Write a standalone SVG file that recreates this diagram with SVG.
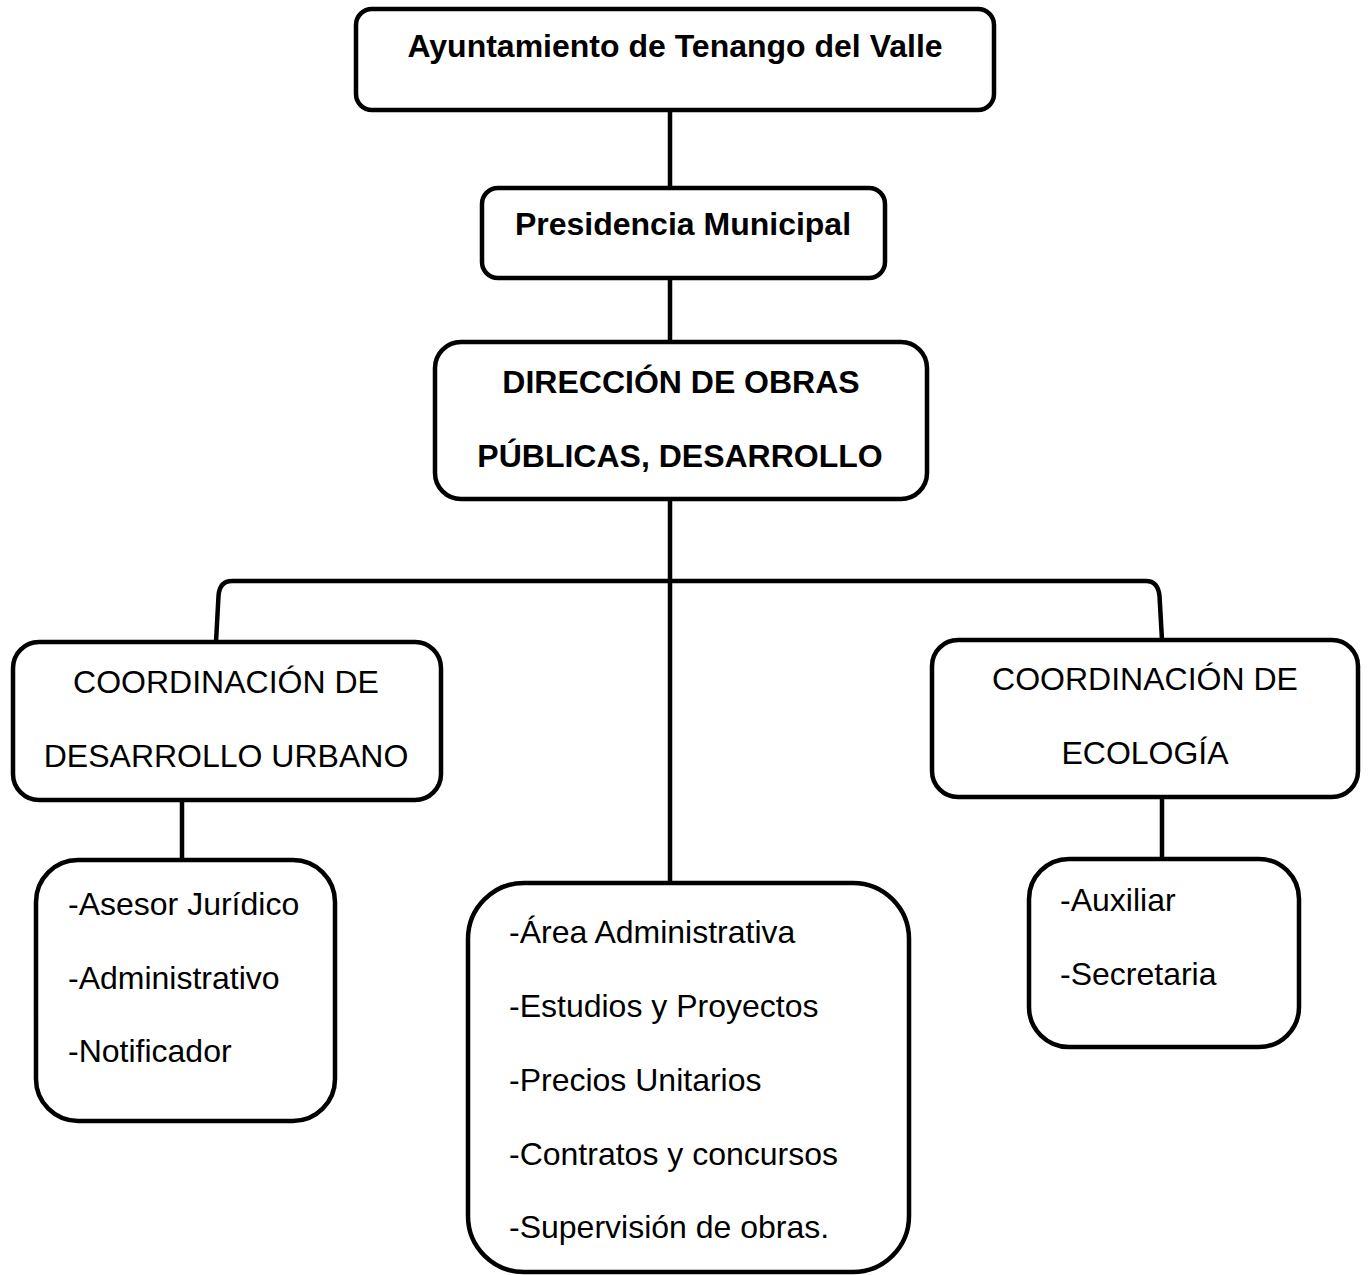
<svg xmlns="http://www.w3.org/2000/svg" width="1368" height="1275" viewBox="0 0 1368 1275">
<style>
.box{fill:#fff;stroke:#000;stroke-width:4.5}
.con{fill:none;stroke:#000;stroke-width:4.5}
.b{font-family:"Liberation Sans",Arial,sans-serif;font-weight:bold;font-size:32px;fill:#000}
.r{font-family:"Liberation Sans",Arial,sans-serif;font-size:32px;fill:#000}
</style>
<rect width="1368" height="1275" fill="#fff"/>
<g id="connectors">
<line class="con" x1="670" y1="110" x2="670" y2="188"/>
<line class="con" x1="670" y1="278" x2="670" y2="342"/>
<line class="con" x1="670" y1="499" x2="670" y2="883"/>
<path class="con" d="M216 642 L218.5 596 Q219.5 581 232 581 L1146 581 Q1158 581 1159.5 596 L1162 640"/>
<line class="con" x1="182" y1="801" x2="182" y2="860"/>
<line class="con" x1="1162" y1="797" x2="1162" y2="859"/>
</g>
<g id="ayuntamiento">
<rect class="box" x="356" y="9" width="638" height="101" rx="16"/>
<text class="b" x="675" y="57" text-anchor="middle">Ayuntamiento de Tenango del Valle</text>
</g>
<g id="presidencia">
<rect class="box" x="482" y="188" width="403" height="90" rx="16"/>
<text class="b" x="683" y="235" text-anchor="middle">Presidencia Municipal</text>
</g>
<g id="direccion">
<rect class="box" x="435" y="342" width="492" height="157" rx="26"/>
<text class="b" x="681" y="393" text-anchor="middle">DIRECCIÓN DE OBRAS</text>
<text class="b" x="680" y="467" text-anchor="middle">PÚBLICAS, DESARROLLO</text>
</g>
<g id="coord-urbano">
<rect class="box" x="13" y="642" width="428" height="158" rx="26"/>
<text class="r" x="226" y="693" text-anchor="middle">COORDINACIÓN DE</text>
<text class="r" x="226" y="767" text-anchor="middle">DESARROLLO URBANO</text>
</g>
<g id="coord-ecologia">
<rect class="box" x="932" y="640" width="426" height="157" rx="26"/>
<text class="r" x="1145" y="690" text-anchor="middle">COORDINACIÓN DE</text>
<text class="r" x="1145" y="764" text-anchor="middle">ECOLOGÍA</text>
</g>
<g id="urbano-staff">
<rect class="box" x="36" y="860" width="299" height="261" rx="42"/>
<text class="r" x="68" y="915">-Asesor Jurídico</text>
<text class="r" x="68" y="989">-Administrativo</text>
<text class="r" x="68" y="1062">-Notificador</text>
</g>
<g id="obras-staff">
<rect class="box" x="468" y="883" width="441" height="389" rx="56"/>
<text class="r" x="509" y="943">-Área Administrativa</text>
<text class="r" x="509" y="1017">-Estudios y Proyectos</text>
<text class="r" x="509" y="1091">-Precios Unitarios</text>
<text class="r" x="509" y="1165">-Contratos y concursos</text>
<text class="r" x="509" y="1238">-Supervisión de obras.</text>
</g>
<g id="ecologia-staff">
<rect class="box" x="1029" y="859" width="270" height="188" rx="40"/>
<text class="r" x="1060" y="911">-Auxiliar</text>
<text class="r" x="1060" y="985">-Secretaria</text>
</g>
</svg>
